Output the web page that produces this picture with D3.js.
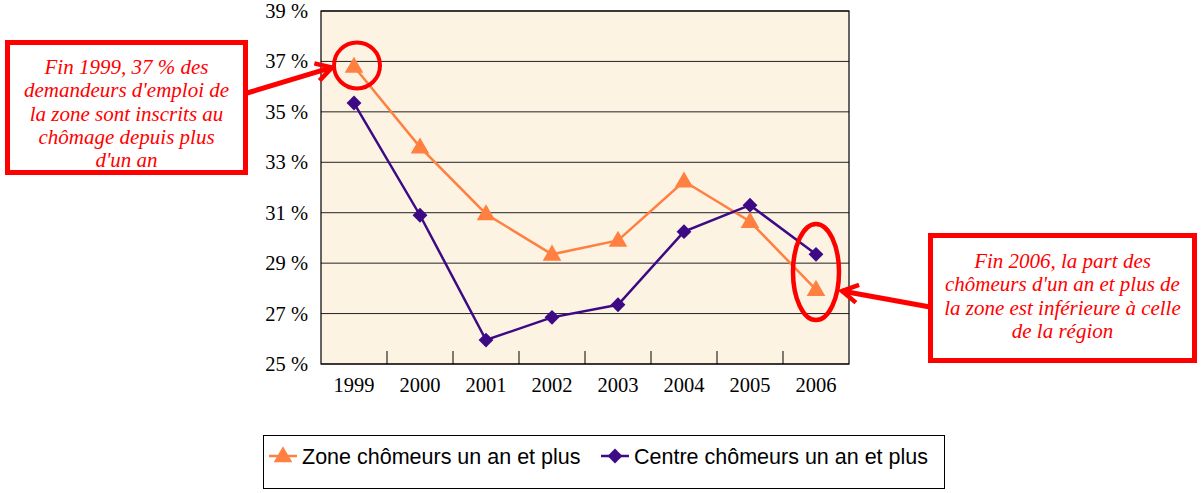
<!DOCTYPE html>
<html>
<head>
<meta charset="utf-8">
<script src="https://cdn.jsdelivr.net/npm/d3@7"></script>
<style>
  body { margin: 0; background: #fff; }
  svg { display: block; }
</style>
</head>
<body>
<script>
// values (percent)
const years = ['1999', '2000', '2001', '2002', '2003', '2004', '2005', '2006'];
const zone = [36.8, 33.6, 30.95, 29.35, 29.9, 32.25, 30.65, 27.95];
const centre = [35.35, 30.9, 25.95, 26.85, 27.35, 30.25, 31.3, 29.35];
const yTicks = [25, 27, 29, 31, 33, 35, 37, 39];
const seriesNames = ['Zone chômeurs un an et plus', 'Centre chômeurs un an et plus'];
const noteLeft = ['Fin 1999, 37 % des', "demandeurs d'emploi de", 'la zone sont inscrits au', 'chômage depuis plus', "d'un an"];
const noteRight = ['Fin 2006, la part des', "chômeurs d'un an et plus de", 'la zone est inférieure à celle', 'de la région'];

const W = 1202, H = 493;
const plot = { left: 321, top: 11, right: 849, bottom: 364 };
const orange = '#ff8040', purple = '#3d0a85', red = '#ff0000';
const serif = '"Liberation Serif", "Times New Roman", serif';

const svg = d3.select('body').append('svg')
  .attr('width', W)
  .attr('height', H);

const x = d3.scaleBand().domain(years).range([plot.left, plot.right]);
const y = d3.scaleLinear().domain([25, 39]).range([plot.bottom, plot.top]);

// plot background
svg.append('rect')
  .attr('x', plot.left).attr('y', plot.top)
  .attr('width', plot.right - plot.left).attr('height', plot.bottom - plot.top)
  .attr('fill', '#fdf3e3');

// gridlines
svg.append('g')
  .selectAll('line')
  .data(yTicks)
  .join('line')
  .attr('x1', plot.left).attr('x2', plot.right)
  .attr('y1', d => y(d)).attr('y2', d => y(d))
  .attr('stroke', '#222').attr('stroke-width', 1);

// y axis labels
const yAxis = svg.append('g')
  .attr('transform', `translate(${plot.left},0)`)
  .call(d3.axisLeft(y).tickValues(yTicks).tickSize(0).tickPadding(13).tickFormat(d => d + ' %'));
yAxis.select('.domain').remove();
yAxis.attr('font-family', serif).attr('font-size', 20.5);
yAxis.selectAll('text').attr('fill', '#000');

// x axis: ticks between categories, pointing up
const xAxis = svg.append('g')
  .attr('transform', `translate(0,${plot.bottom})`)
  .call(d3.axisBottom(x).tickSize(0).tickPadding(13));
xAxis.select('.domain').remove();
xAxis.attr('font-family', serif).attr('font-size', 20.5);
xAxis.selectAll('text').attr('fill', '#000');
svg.append('g')
  .selectAll('line')
  .data(years.slice(1))
  .join('line')
  .attr('x1', d => x(d)).attr('x2', d => x(d))
  .attr('y1', plot.bottom).attr('y2', plot.bottom - 13)
  .attr('stroke', '#000');

// plot frame
svg.append('rect')
  .attr('x', plot.left).attr('y', plot.top)
  .attr('width', plot.right - plot.left).attr('height', plot.bottom - plot.top)
  .attr('fill', 'none').attr('stroke', '#000').attr('stroke-width', 1.2);

const cx = d => x(d) + x.bandwidth() / 2;
const line = d3.line().x(d => cx(d[0])).y(d => y(d[1]));

const zoneData = years.map((yr, i) => [yr, zone[i]]);
const centreData = years.map((yr, i) => [yr, centre[i]]);

const triangle = d3.symbol().type(d3.symbolTriangle).size(150);
const diamond = d3.symbol().type(d3.symbolSquare).size(110);

svg.append('path').datum(zoneData)
  .attr('fill', 'none').attr('stroke', orange).attr('stroke-width', 2.5)
  .attr('d', line);
svg.append('path').datum(centreData)
  .attr('fill', 'none').attr('stroke', purple).attr('stroke-width', 2.5)
  .attr('d', line);

svg.append('g').selectAll('path')
  .data(zoneData)
  .join('path')
  .attr('d', triangle)
  .attr('transform', d => `translate(${cx(d[0])},${y(d[1]) + 1})`)
  .attr('fill', orange);

svg.append('g').selectAll('path')
  .data(centreData)
  .join('path')
  .attr('d', diamond)
  .attr('transform', d => `translate(${cx(d[0])},${y(d[1])}) rotate(45)`)
  .attr('fill', purple);

// annotations
svg.append('defs').append('marker')
  .attr('id', 'arrow')
  .attr('viewBox', '0 0 10 10')
  .attr('refX', 8).attr('refY', 5)
  .attr('markerWidth', 4.5).attr('markerHeight', 4.5)
  .attr('orient', 'auto')
  .append('path')
  .attr('d', 'M1,1 L8,5 L1,9')
  .attr('fill', 'none').attr('stroke', red).attr('stroke-width', 2);

function noteBox(x0, y0, w, h, lines, firstBaseline) {
  svg.append('rect')
    .attr('x', x0 + 2.5).attr('y', y0 + 2.5)
    .attr('width', w - 5).attr('height', h - 5)
    .attr('fill', '#fff').attr('stroke', red).attr('stroke-width', 5);
  svg.append('text')
    .attr('font-family', serif)
    .attr('font-style', 'italic')
    .attr('font-size', 21)
    .attr('fill', red)
    .attr('text-anchor', 'middle')
    .selectAll('tspan')
    .data(lines)
    .join('tspan')
    .attr('x', x0 + w / 2)
    .attr('y', (d, i) => firstBaseline + i * 23.3)
    .text(d => d);
}

noteBox(5, 40, 243, 135, noteLeft, 74);
noteBox(928, 233, 269, 130, noteRight, 268);

const p1999 = [cx('1999'), y(zone[0])];
svg.append('circle')
  .attr('cx', p1999[0] + 3).attr('cy', p1999[1] - 1).attr('r', 23)
  .attr('fill', 'none').attr('stroke', red).attr('stroke-width', 4);
svg.append('line')
  .attr('x1', 247).attr('y1', 93).attr('x2', p1999[0] - 22).attr('y2', p1999[1] + 1)
  .attr('stroke', red).attr('stroke-width', 5).attr('marker-end', 'url(#arrow)');

const p2006x = cx('2006');
const ellY = (y(zone[7]) + y(centre[7])) / 2;
svg.append('ellipse')
  .attr('cx', p2006x).attr('cy', ellY).attr('rx', 23).attr('ry', 48)
  .attr('fill', 'none').attr('stroke', red).attr('stroke-width', 4.5);
svg.append('line')
  .attr('x1', 930).attr('y1', 307).attr('x2', p2006x + 26).attr('y2', ellY + 19)
  .attr('stroke', red).attr('stroke-width', 5).attr('marker-end', 'url(#arrow)');

// legend
const lg = svg.append('g');
lg.append('rect')
  .attr('x', 263.5).attr('y', 435.5).attr('width', 681).attr('height', 53)
  .attr('fill', '#fff').attr('stroke', '#000').attr('stroke-width', 1);
const legendItems = [
  { name: seriesNames[0], color: orange, sym: triangle, rot: 0, x: 269 },
  { name: seriesNames[1], color: purple, sym: diamond, rot: 45, x: 601 }
];
const li = lg.selectAll('g.item').data(legendItems).join('g')
  .attr('transform', d => `translate(${d.x},456)`);
li.append('line')
  .attr('x1', 0).attr('x2', 28).attr('y1', 0).attr('y2', 0)
  .attr('stroke', d => d.color).attr('stroke-width', 2.5);
li.append('path')
  .attr('d', d => d.sym())
  .attr('transform', d => `translate(14,${d.rot ? 0 : 1}) rotate(${d.rot})`)
  .attr('fill', d => d.color);
li.append('text')
  .attr('x', 33).attr('y', 8)
  .attr('font-family', '"Liberation Sans", Arial, sans-serif')
  .attr('font-size', 21.5)
  .attr('fill', '#000')
  .text(d => d.name);
</script>
</body>
</html>
